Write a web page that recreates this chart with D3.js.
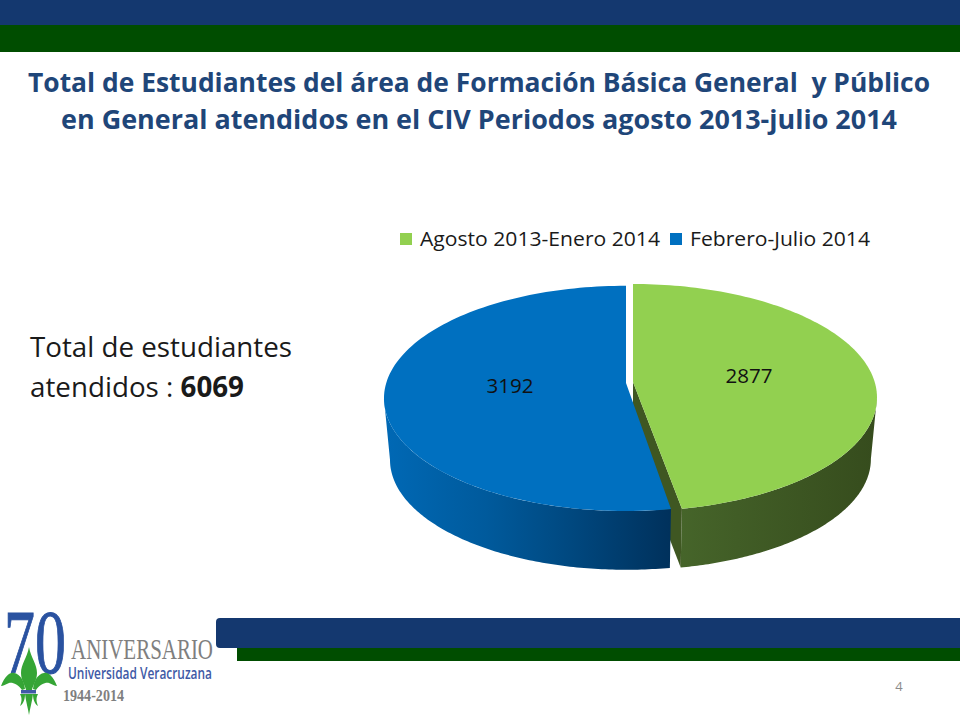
<!DOCTYPE html>
<html>
<head>
<meta charset="utf-8">
<script src="https://cdnjs.cloudflare.com/ajax/libs/d3/7.8.5/d3.min.js"></script>
<style>
html, body { margin: 0; padding: 0; background: #fff; }
svg { display: block; }
text { font-family: "Open Sans", sans-serif; }
</style>
</head>
<body>
<svg id="slide" width="960" height="720"></svg>
<script>
// chart values
const categories = ["Agosto 2013-Enero 2014", "Febrero-Julio 2014"];
const seriesValues = [2877, 3192];
const topColors = ["#92D050", "#0070C0"];
const totalLabel = 6069;

const titleLines = [
	"Total de Estudiantes del área de Formación Básica General  y Público",
	"en General atendidos en el CIV Periodos agosto 2013-julio 2014"
];
const titleWidths = [902, 836];

// 3D look: a circle seen in perspective
const RX = 241.7, RY = 111.4, K = 0.1366;
const DEPTH = 62, BOTTOM_SCALE = 0.975;
const WIDEST = Math.acos(-K); // angle of the widest point of the ellipse
const FRONT_GAP = 0.013; // green front edge sits a bit further right in the original
const centers = [{x: 633, y: 382}, {x: 626, y: 383}];
const radiusScale = [1, 0.992];
const labelPos = [{x: 749, y: 383}, {x: 510, y: 393}];

var svg = d3.select("#slide");
var defs = svg.append("defs");

function project(c, theta, scale, dy) {
	let X = Math.sin(theta), Y = -Math.cos(theta);
	let s = 1 / (1 - K * Y);
	return [c.x + RX * scale * X * s, c.y + dy + RY * scale * Y * s];
}

function arcPoints(c, a0, a1, scale, dy) {
	let n = 120;
	return d3.range(n + 1).map(i => project(c, a0 + (a1 - a0) * i / n, scale, dy));
}

function addGradient(id, x1, x2, stops) {
	let g = defs.append("linearGradient").attr("id", id)
		.attr("gradientUnits", "userSpaceOnUse")
		.attr("x1", x1).attr("x2", x2).attr("y1", 0).attr("y2", 0);
	stops.forEach(s => g.append("stop").attr("offset", s[0]).attr("stop-color", s[1]));
}

addGradient("wall0", 678, 875, [[0, "#46652a"], [0.3, "#415d26"], [1, "#364c1d"]]);
addGradient("wall1", 388, 670, [[0, "#0068b4"], [0.35, "#005a9c"], [0.6, "#004b84"], [1, "#00315c"]]);

// header bands
svg.append("rect").attr("x", 0).attr("y", 0).attr("width", 960).attr("height", 25).attr("fill", "#14386F");
svg.append("rect").attr("x", 0).attr("y", 25).attr("width", 960).attr("height", 27).attr("fill", "#004D00");

// title
svg.selectAll(".title").data(titleLines).enter().append("text")
	.attr("class", "title")
	.attr("x", 479)
	.attr("y", (d, i) => 92 + i * 37)
	.attr("text-anchor", "middle")
	.attr("font-size", 27)
	.attr("font-weight", 700)
	.attr("fill", "#1F4679")
	.attr("textLength", (d, i) => titleWidths[i])
	.attr("lengthAdjust", "spacingAndGlyphs")
	.style("white-space", "pre")
	.text(d => d);

// left note
svg.append("text").attr("x", 30).attr("y", 357).attr("font-size", 28).attr("fill", "#1a1a1a")
	.attr("textLength", 262).attr("lengthAdjust", "spacingAndGlyphs")
	.text("Total de estudiantes");
var note = svg.append("text").attr("x", 30).attr("y", 397).attr("font-size", 28).attr("fill", "#1a1a1a")
	.attr("textLength", 214).attr("lengthAdjust", "spacingAndGlyphs");
note.append("tspan").text("atendidos : ");
note.append("tspan").attr("font-weight", 700).text(totalLabel);

// legend
const legendX = [400, 670];
const legendWidths = [240, 180];
categories.forEach((c, i) => {
	svg.append("rect").attr("x", legendX[i]).attr("y", 233).attr("width", 12).attr("height", 12).attr("fill", topColors[i]);
	svg.append("text").attr("x", legendX[i] + 20).attr("y", 246).attr("font-size", 20).attr("fill", "#1a1a1a")
		.attr("textLength", legendWidths[i]).attr("lengthAdjust", "spacingAndGlyphs")
		.text(c);
});

// pie
var pie = d3.pie().sort(null).startAngle(0).endAngle(2 * Math.PI);
var slices = pie(seriesValues);
var line = d3.line();

slices.forEach((d, i) => {
	let c = centers[i];
	let sc = radiusScale[i];
	let a0 = d.startAngle, a1 = i == 0 ? d.endAngle - FRONT_GAP : d.endAngle;
	let top = arcPoints(c, a0, a1, sc, 0);

	// outer wall, only from the widest point round the front
	let w0 = i == 0 ? WIDEST : a0, w1 = i == 0 ? a1 : 2 * Math.PI - WIDEST;
	let wallTop = arcPoints(c, w0, w1, sc, 0);
	let wallBottom = arcPoints(c, w0, w1, sc * BOTTOM_SCALE, DEPTH);
	svg.append("path")
		.attr("d", line(wallTop.concat(wallBottom.slice().reverse())) + "Z")
		.attr("fill", "url(#wall" + i + ")");

	// cut face at the front, only the green one shows
	if (i == 0) {
		let frontTop = wallTop[wallTop.length - 1], frontBottom = wallBottom[wallBottom.length - 1];
		svg.append("path")
			.attr("d", line([[c.x, c.y], frontTop, frontBottom, [c.x, c.y + DEPTH]]) + "Z")
			.attr("fill", "#3F5722");
	}

	// top face
	svg.append("path")
		.attr("d", line([[c.x, c.y]].concat(top)) + "Z")
		.attr("fill", topColors[i]);

	svg.append("text")
		.attr("x", labelPos[i].x).attr("y", labelPos[i].y)
		.attr("text-anchor", "middle").attr("font-size", 20).attr("fill", "#111")
		.attr("textLength", 47).attr("lengthAdjust", "spacingAndGlyphs")
		.text(d.data);
});

// footer bands
svg.append("rect").attr("x", 237).attr("y", 640).attr("width", 723).attr("height", 21).attr("fill", "#004D00");
svg.append("rect").attr("x", 216).attr("y", 618).attr("width", 760).attr("height", 30).attr("rx", 4).attr("fill", "#14386F");

// page number
svg.append("text").attr("x", 899).attr("y", 691).attr("text-anchor", "middle").attr("font-size", 13).attr("fill", "#8b8b8b").text("4");

// logo
var logo = svg.append("g");
logo.append("text").attr("x", 4).attr("y", 673)
	.attr("textLength", 62).attr("lengthAdjust", "spacingAndGlyphs")
	.attr("font-size", 90)
	.style("font-family", "'Liberation Serif', serif")
	.attr("stroke", "#2A52A0").attr("stroke-width", 1)
	.attr("fill", "#2A52A0").text("70");
logo.append("text").attr("x", 71).attr("y", 659)
	.attr("textLength", 142).attr("lengthAdjust", "spacingAndGlyphs")
	.attr("font-size", 29)
	.style("font-family", "'Liberation Serif', serif")
	.attr("fill", "#7f7f7f").text("ANIVERSARIO");
logo.append("text").attr("x", 68).attr("y", 679)
	.attr("textLength", 144).attr("lengthAdjust", "spacingAndGlyphs")
	.attr("font-size", 17).attr("font-weight", 600)
	.attr("fill", "#3F5AA6").text("Universidad Veracruzana");
logo.append("text").attr("x", 63).attr("y", 701)
	.attr("textLength", 61).attr("lengthAdjust", "spacingAndGlyphs")
	.attr("font-size", 17).attr("font-weight", 700)
	.style("font-family", "'Liberation Serif', serif")
	.attr("fill", "#7f7f7f").text("1944-2014");

const fleur = [
	"M29,647 C27,658 21,664 21,673 C21,680 25,685 26,690 L32,690 C33,685 37,680 37,673 C37,664 31,658 29,647 Z",
	"M1,686 C5,676 10,672 14,673 C20,674 24,680 25,689 L22,690 C18,684 12,682 9,683 C6,684 3,686 1,686 Z",
	"M57,686 C53,676 48,672 44,673 C38,674 34,680 33,689 L36,690 C40,684 46,682 49,683 C52,684 55,686 57,686 Z",
	"M25,694 L33,694 C32,702 30,708 29,715 C28,708 26,702 25,694 Z",
	"M20,694 L25,694 C25,700 23,704 20,706 C22,701 22,698 20,694 Z",
	"M38,694 L33,694 C33,700 35,704 38,706 C36,701 36,698 38,694 Z"
];
logo.selectAll(".fleur").data(fleur).enter().append("path").attr("d", d => d).attr("fill", "#35A535");
logo.append("rect").attr("x", 21).attr("y", 690).attr("width", 15).attr("height", 3.5).attr("fill", "#3F5AA6");
</script>
</body>
</html>
